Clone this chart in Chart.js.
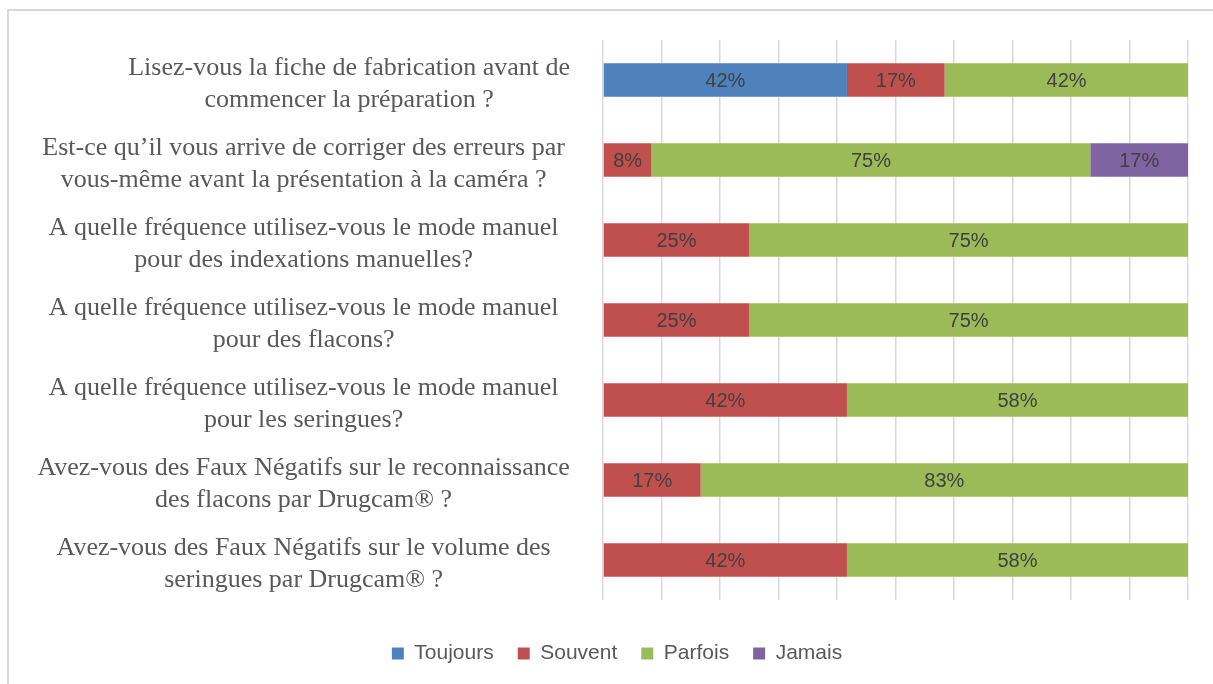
<!DOCTYPE html>
<html>
<head>
<meta charset="utf-8">
<script src="https://cdn.jsdelivr.net/npm/chart.js@4.4.0/dist/chart.umd.min.js"></script>
<style>
    html, body { margin: 0; padding: 0; background: #fff; overflow: hidden; }
    #frame {
        position: absolute; left: 7px; top: 9px; width: 1400px; height: 900px;
        border: 2px solid #d9d9d9;
    }
    #wrap { position: absolute; left: 0; top: 0; width: 1213px; height: 684px; }
</style>
</head>
<body>
<div id="frame"></div>
<div id="wrap"><canvas id="surveyChart"></canvas></div>
<script>
// Questions (y axis), one array of lines per question
const pad = '\u00a0'.repeat(14);
const questions = [
    [pad + 'Lisez-vous la fiche de fabrication avant de', pad + 'commencer la préparation ?'],
    ['Est-ce qu\u2019il vous arrive de corriger des erreurs par', 'vous-même avant la présentation à la caméra ?'],
    ['A quelle fréquence utilisez-vous le mode manuel', 'pour des indexations manuelles?'],
    ['A quelle fréquence utilisez-vous le mode manuel', 'pour des flacons?'],
    ['A quelle fréquence utilisez-vous le mode manuel', 'pour les seringues?'],
    ['Avez-vous des Faux Négatifs sur le reconnaissance', 'des flacons par Drugcam® ?'],
    ['Avez-vous des Faux Négatifs sur le volume des', 'seringues par Drugcam® ?']
];

// Answer shares in %
const toujours = [41.7, null, null, null, null, null, null];
const souvent  = [16.7, 8.3, 25, 25, 41.7, 16.7, 41.7];
const parfois  = [41.7, 75, 75, 75, 58.3, 83.3, 58.3];
const jamais   = [null, 16.7, null, null, null, null, null];

const xTicks = [0, 10, 20, 30, 40, 50, 60, 70, 80, 90, 100];

// Percent labels in the middle of each segment
const segmentLabels = {
    id: 'segmentLabels',
    afterDatasetsDraw(chart) {
        const ctx = chart.ctx;
        ctx.save();
        ctx.font = '20px "Liberation Sans", Arial, sans-serif';
        ctx.fillStyle = '#404040';
        ctx.textAlign = 'center';
        ctx.textBaseline = 'middle';
        chart.data.datasets.forEach((ds, i) => {
            const meta = chart.getDatasetMeta(i);
            meta.data.forEach((bar, j) => {
                const v = ds.data[j];
                if (v == null) return;
                const { x, y, base } = bar.getProps(['x', 'y', 'base'], true);
                ctx.fillText(Math.round(v) + '%', (x + base) / 2, y + 1);
            });
        });
        ctx.restore();
    }
};

// nudge the legend a bit to the right, like the original
const legendShift = {
    id: 'legendShift',
    afterLayout(chart) {
        chart.legend.left += 13;
        chart.legend.right += 13;
    }
};

const ctx = document.getElementById('surveyChart').getContext('2d');
new Chart(ctx, {
    type: 'bar',
    data: {
        labels: questions,
        datasets: [
            { label: 'Toujours', data: toujours, backgroundColor: '#4f81bd' },
            { label: 'Souvent', data: souvent, backgroundColor: '#c0504d' },
            { label: 'Parfois', data: parfois, backgroundColor: '#9bbb59' },
            { label: 'Jamais', data: jamais, backgroundColor: '#8064a2' }
        ]
    },
    options: {
        indexAxis: 'y',
        responsive: true,
        maintainAspectRatio: false,
        animation: false,
        categoryPercentage: 1,
        barPercentage: 0.42,
        layout: { padding: { left: 20, right: 25, top: 40, bottom: 10 } },
        scales: {
            x: {
                stacked: true,
                min: 0,
                max: 100,
                afterBuildTicks: s => { s.ticks = xTicks.map(v => ({ value: v })); },
                afterFit: s => { s.height = 19; },
                grid: { color: '#d9d9d9', lineWidth: 1.5, drawTicks: false },
                border: { display: false },
                ticks: { display: false }
            },
            y: {
                stacked: true,
                afterFit: s => { s.width = 603 - 20; s.paddingTop = 0; s.paddingBottom = 0; },
                grid: { display: false },
                border: { display: false },
                ticks: {
                    crossAlign: 'center',
                    padding: 25,
                    labelOffset: 4,
                    color: '#595959',
                    font: { family: '"Liberation Serif", "Times New Roman", serif', size: 26, lineHeight: 1.23 }
                }
            }
        },
        plugins: {
            legend: {
                position: 'bottom',
                labels: {
                    boxWidth: 12,
                    boxHeight: 12,
                    padding: 24,
                    color: '#595959',
                    font: { family: '"Liberation Sans", Arial, sans-serif', size: 21 }
                }
            },
            tooltip: { enabled: false }
        }
    },
    plugins: [segmentLabels, legendShift]
});
</script>
</body>
</html>
